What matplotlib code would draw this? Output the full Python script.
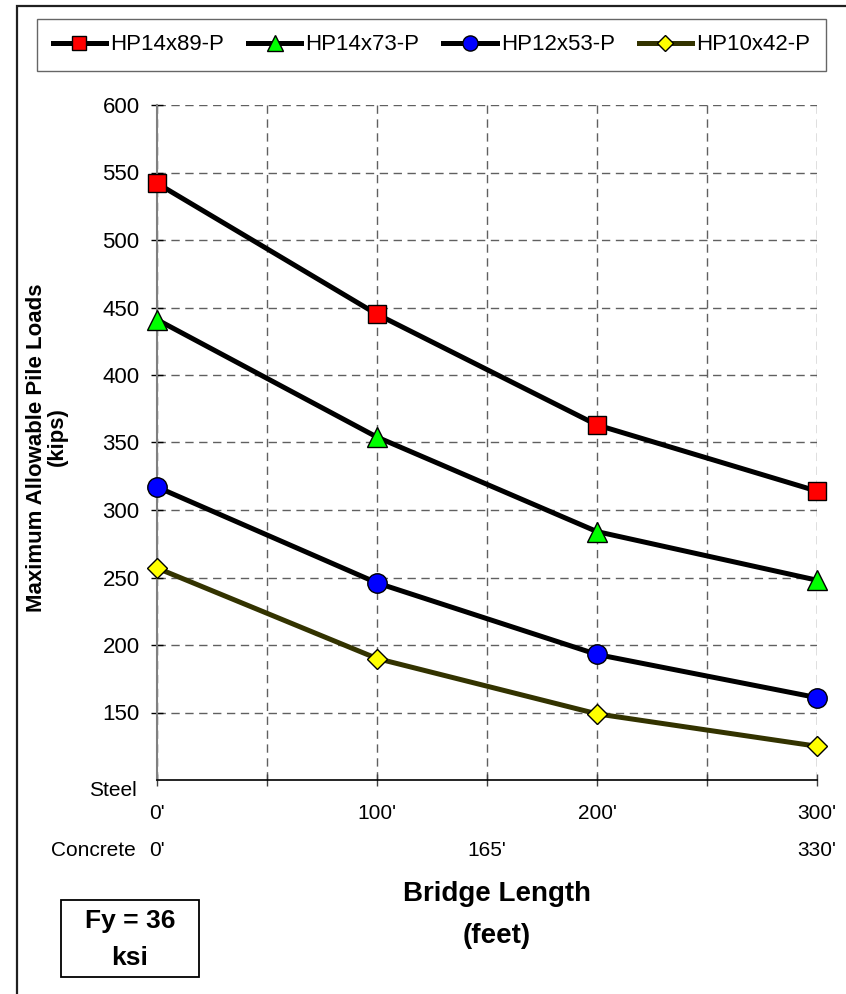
import matplotlib
matplotlib.use('Agg')
import matplotlib.pyplot as plt
from matplotlib.patches import Rectangle
from matplotlib.transforms import blended_transform_factory

plt.rcParams['font.family'] = ['Liberation Sans', 'DejaVu Sans']

# data
bridge_len = [0, 100, 200, 300]
hp14x89 = [542, 445, 363, 314]
hp14x73 = [441, 354, 284, 248]
hp12x53 = [317, 246, 193, 161]
hp10x42 = [257, 190, 149, 125]

series = [
    ('HP14x89-P', hp14x89, 's', '#FF0000', 'black', 13.5),
    ('HP14x73-P', hp14x73, '^', '#00FF00', 'black', 15),
    ('HP12x53-P', hp12x53, 'o', '#0000FF', 'black', 14),
    ('HP10x42-P', hp10x42, 'D', '#FFFF00', '#333300', 10.5),
]

steel_ticks = [0, 50, 100, 150, 200, 250, 300]
steel_labels = ["0'", '', "100'", '', "200'", '', "300'"]
concrete_pos = [0, 150, 300]
concrete_labels = ["0'", "165'", "330'"]
y_ticks = [150, 200, 250, 300, 350, 400, 450, 500, 550, 600]

W, H = 846, 994
fig = plt.figure(figsize=(W / 100, H / 100), dpi=100)
fig.patch.set_facecolor('white')

def fx(px):
    return px / W

def fy(py):
    return 1 - py / H

ax = fig.add_axes([fx(157), fy(780), fx(817) - fx(157), fy(105) - fy(780)])
ax.set_xlim(0, 300)
ax.set_ylim(100, 600)

for name, vals, mk, fc, lc, ms in series:
    ax.plot(bridge_len, vals, '-', color=lc, lw=3.6, marker=mk, markersize=ms,
            markerfacecolor=fc, markeredgecolor='black', markeredgewidth=1.0,
            label=name, clip_on=False, zorder=3)

# grid
ax.set_xticks(steel_ticks)
ax.set_xticklabels(steel_labels)
ax.set_yticks(y_ticks)
ax.grid(True, color='#606060', linestyle=(0, (6, 4)), linewidth=1.0)
ax.set_axisbelow(True)

ax.spines['top'].set_visible(False)
ax.spines['right'].set_visible(False)
ax.spines['left'].set_color('#808080')
ax.spines['left'].set_linewidth(1.5)
ax.spines['bottom'].set_color('black')
ax.spines['bottom'].set_linewidth(1.2)

ax.tick_params(axis='y', direction='inout', length=9, width=1, color='black',
               labelsize=16, pad=8)
ax.tick_params(axis='x', direction='inout', length=8, width=1, color='#404040',
               labelsize=15, pad=13)

# second row of x labels (concrete)
row_tf = blended_transform_factory(ax.transData, fig.transFigure)
for xpos, lab in zip(concrete_pos, concrete_labels):
    ax.text(xpos, fy(850), lab, transform=row_tf,
            ha='center', va='center', fontsize=15)

fig.text(fx(137), fy(790), 'Steel', ha='right', va='center', fontsize=15)
fig.text(fx(136), fy(850), 'Concrete', ha='right', va='center', fontsize=15)

fig.text(fx(497), fy(894), 'Bridge Length', ha='center', va='center',
         fontsize=20, fontweight='bold')
fig.text(fx(497), fy(936), '(feet)', ha='center', va='center',
         fontsize=20, fontweight='bold')

fig.text(fx(37), fy(448), 'Maximum Allowable Pile Loads', rotation=90,
         ha='center', va='center', fontsize=16, fontweight='bold')
fig.text(fx(57), fy(437), '(kips)', rotation=90,
         ha='center', va='center', fontsize=16, fontweight='bold')

# Fy box
fig.patches.append(Rectangle((fx(61), fy(977)), fx(199) - fx(61), fy(900) - fy(977),
                             transform=fig.transFigure, fill=False,
                             edgecolor='black', linewidth=1.3))
fig.text(fx(130), fy(921), 'Fy = 36', ha='center', va='center',
         fontsize=19, fontweight='bold')
fig.text(fx(130), fy(958), 'ksi', ha='center', va='center',
         fontsize=19, fontweight='bold')

# outer chart frame
fig.patches.append(Rectangle((fx(17), fy(1010)), fx(870) - fx(17), fy(6) - fy(1010),
                             transform=fig.transFigure, fill=False,
                             edgecolor='#202020', linewidth=1.6))

leg = fig.legend(loc='lower left', ncol=4, mode='expand',
                 bbox_to_anchor=(fx(37), fy(71), fx(826) - fx(37), fy(14) - fy(71)),
                 fontsize=16, markerscale=0.78, handlelength=2.4, handletextpad=0.2,
                 columnspacing=1.2, borderaxespad=0, borderpad=0.7,
                 fancybox=False, frameon=True)
leg.get_frame().set_edgecolor('#404040')
leg.get_frame().set_linewidth(1.0)

fig.savefig('out.png', dpi=100)
